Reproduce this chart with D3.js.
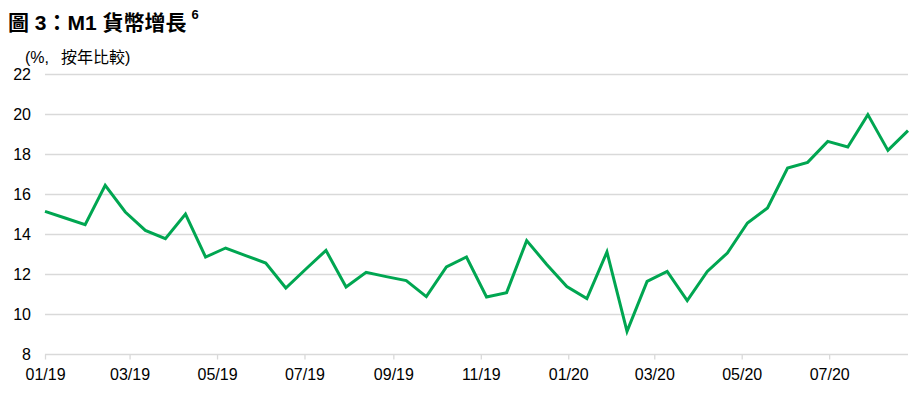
<!DOCTYPE html>
<html lang="zh-Hant">
<head>
<meta charset="UTF-8">
<title>M1 貨幣增長</title>
<script src="https://cdn.jsdelivr.net/npm/d3@7"></script>
<style>
  body { margin: 0; background: #fff; }
  text { font-family: "Liberation Sans", Arial, "Noto Sans CJK TC", sans-serif; }
</style>
</head>
<body>
<script>
// data: M1 growth, % yoy, every two weeks
const dates = [
  "2019-01-01", "2019-01-15", "2019-01-29", "2019-02-12", "2019-02-26",
  "2019-03-12", "2019-03-26", "2019-04-09", "2019-04-23", "2019-05-07",
  "2019-05-21", "2019-06-04", "2019-06-18", "2019-07-02", "2019-07-16",
  "2019-07-30", "2019-08-13", "2019-08-27", "2019-09-10", "2019-09-24",
  "2019-10-08", "2019-10-22", "2019-11-05", "2019-11-19", "2019-12-03",
  "2019-12-17", "2019-12-31", "2020-01-14", "2020-01-28", "2020-02-11",
  "2020-02-25", "2020-03-10", "2020-03-24", "2020-04-07", "2020-04-21",
  "2020-05-05", "2020-05-19", "2020-06-02", "2020-06-16", "2020-06-30",
  "2020-07-14", "2020-07-28", "2020-08-11", "2020-08-25"
];
const m1Growth = [
  15.13, 14.8, 14.47, 16.43, 15.1, 14.18, 13.77, 15.0, 12.85, 13.3,
  12.92, 12.55, 11.3, 12.25, 13.18, 11.35, 12.08, 11.87, 11.67, 10.87,
  12.35, 12.85, 10.85, 11.07, 13.67, 12.48, 11.37, 10.77, 13.1, 9.13,
  11.63, 12.13, 10.67, 12.13, 13.05, 14.55, 15.3, 17.3, 17.58, 18.63,
  18.35, 19.97, 18.18, 19.17
];
const yTicks = [8, 10, 12, 14, 16, 18, 20, 22];
const xTickDates = ["2019-01-01", "2019-03-01", "2019-05-01", "2019-07-01", "2019-09-01",
  "2019-11-01", "2020-01-01", "2020-03-01", "2020-05-01", "2020-07-01"];

const width = 917, height = 402;
const margin = {top: 74, right: 9, bottom: 48, left: 45};
const parse = d3.timeParse("%Y-%m-%d");

const svg = d3.select("body").append("svg")
  .attr("width", width)
  .attr("height", height);

// title + unit
const title = svg.append("text")
  .attr("x", 8).attr("y", 30)
  .attr("font-size", 21).attr("font-weight", "bold").attr("fill", "#000");
title.append("tspan").text("圖 3：M1 貨幣增長");
title.append("tspan").attr("dx", 5).attr("dy", -11).attr("font-size", 13).text("6");

const unit = svg.append("text")
  .attr("x", 25).attr("y", 63)
  .attr("font-size", 16).attr("fill", "#000");
unit.append("tspan").text("(%,");
unit.append("tspan").attr("dx", 12).text("按年比較)");

const data = dates.map((d, i) => ({date: parse(d), value: m1Growth[i]}));

const x = d3.scaleTime()
  .domain(d3.extent(data, d => d.date))
  .range([margin.left, width - margin.right]);

const y = d3.scaleLinear()
  .domain([8, 22])
  .range([height - margin.bottom, margin.top]);

// gridlines
svg.append("g")
  .selectAll("line")
  .data(yTicks)
  .join("line")
  .attr("x1", margin.left).attr("x2", width - margin.right)
  .attr("y1", d => Math.round(y(d)) + 0.5).attr("y2", d => Math.round(y(d)) + 0.5)
  .attr("stroke", "#d9d9d9").attr("stroke-width", 1.3);

// y axis labels
svg.append("g")
  .selectAll("text")
  .data(yTicks)
  .join("text")
  .attr("x", 31).attr("y", d => y(d))
  .attr("dy", "0.35em")
  .attr("text-anchor", "end")
  .attr("font-size", 16).attr("fill", "#000")
  .text(d => d);

// x axis
const xAxis = d3.axisBottom(x)
  .tickValues(xTickDates.map(parse))
  .tickFormat(d3.timeFormat("%m/%y"))
  .tickSize(5)
  .tickPadding(9);

const gx = svg.append("g")
  .attr("transform", `translate(0,${Math.round(y(8)) + 0.5})`)
  .call(xAxis);
gx.select(".domain").remove();
gx.selectAll(".tick line").attr("stroke", "#d9d9d9").attr("stroke-width", 1.3);
gx.selectAll(".tick text")
  .attr("font-size", 16).attr("fill", "#000")
  .attr("font-family", "'Liberation Sans', Arial, sans-serif");

// line
const line = d3.line()
  .x(d => x(d.date))
  .y(d => y(d.value));

svg.append("path")
  .datum(data)
  .attr("fill", "none")
  .attr("stroke", "#00a651")
  .attr("stroke-width", 3)
  .attr("stroke-linejoin", "miter")
  .attr("d", line);
</script>
</body>
</html>
